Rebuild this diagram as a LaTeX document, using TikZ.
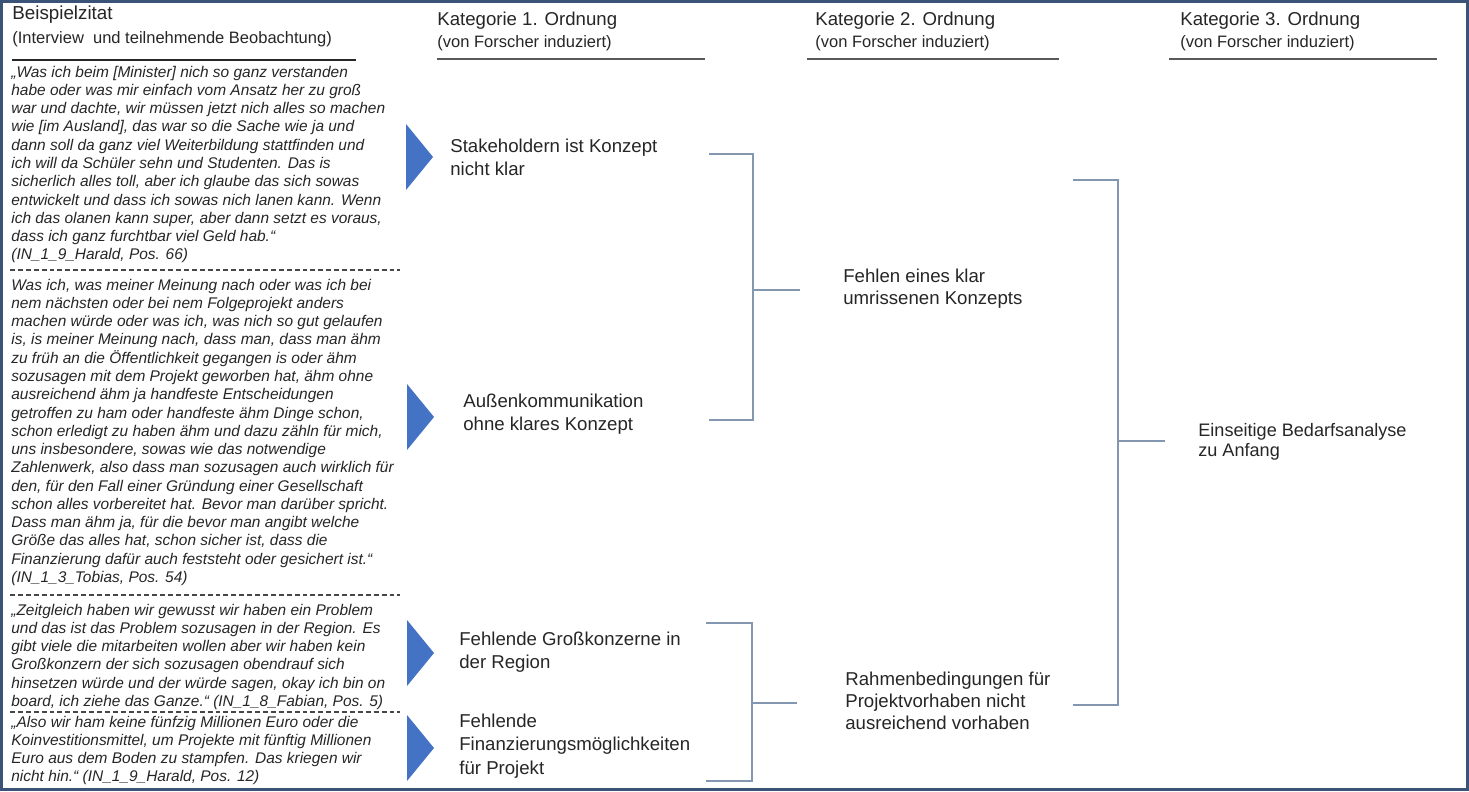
\documentclass[tikz,border=0pt]{standalone}
\usepackage{fontspec}
\setmainfont{Liberation Sans}
\usetikzlibrary{calc}
\definecolor{FrameBlue}{RGB}{59,83,118}
\definecolor{MarkerBlue}{RGB}{68,114,196}
\definecolor{BracketBlue}{RGB}{132,151,176}
\definecolor{RuleGray}{RGB}{89,89,89}
\definecolor{InkGray}{RGB}{38,38,38}
\tikzset{
  title/.style={
    anchor=base west,
    inner sep=0pt,
    font=\fontsize{10.6}{13}\selectfont,
    text=InkGray
  },
  subtitle/.style={
    anchor=base west,
    inner sep=0pt,
    font=\fontsize{9.4}{11}\selectfont,
    text=InkGray
  },
  quote/.style={
    anchor=north west,
    inner sep=0pt,
    align=left,
    font=\fontsize{8.8}{10.4}\selectfont\itshape,
    text=InkGray
  },
  code/.style={
    anchor=west,
    inner sep=0pt,
    align=left,
    font=\fontsize{10.6}{13}\selectfont,
    text=InkGray
  },
  marker/.style={fill=MarkerBlue,draw=none},
  bracket/.style={draw=BracketBlue,line width=0.9pt},
  rule/.style={draw=RuleGray,line width=1.4pt},
  sep/.style={draw=InkGray!85,line width=0.6pt,dash pattern=on 2.8pt off 1.7pt}
}

\begin{document}
\begin{tikzpicture}[x=0.02cm,y=-0.02cm]
\useasboundingbox (0,0) rectangle (1469,791);
\fill[white] (0,0) rectangle (1469,791);

% column heads
\node[title,font=\fontsize{10.7}{13}\selectfont] (h0) at (12,19) {Beispielzitat};
\node[subtitle] (s0) at (12,43) {(Interview\ \ und teilnehmende Beobachtung)};
\node[title] (h1) at (437,25) {Kategorie 1. Ordnung};
\node[subtitle] (s1) at (437,47) {(von Forscher induziert)};
\node[title] (h2) at (815,25) {Kategorie 2. Ordnung};
\node[subtitle] (s2) at (815,47) {(von Forscher induziert)};
\node[title] (h3) at (1180,25) {Kategorie 3. Ordnung};
\node[subtitle] (s3) at (1180,47) {(von Forscher induziert)};

\coordinate (r0) at (12,60);
\coordinate (r1) at (437,59);
\coordinate (r2) at (807,59);
\coordinate (r3) at (1169,59);
\draw[rule,line width=0.85pt,draw=InkGray] (r0) -- ++(344,0);
\draw[rule] (r1) -- ++(268,0);
\draw[rule] (r2) -- ++(252,0);
\draw[rule] (r3) -- ++(268,0);

% quotes
\node[quote] (q1) at (11,64) {\strut„Was ich beim [Minister] nich so ganz verstanden\\
habe oder was mir einfach vom Ansatz her zu groß\\
war und dachte, wir müssen jetzt nich alles so machen\\
wie [im Ausland], das war so die Sache wie ja und\\
dann soll da ganz viel Weiterbildung stattfinden und\\
ich will da Schüler sehn und Studenten. Das is\\
sicherlich alles toll, aber ich glaube das sich sowas\\
entwickelt und dass ich sowas nich lanen kann. Wenn\\
ich das olanen kann super, aber dann setzt es voraus,\\
dass ich ganz furchtbar viel Geld hab.“\\
(IN\_1\_9\_Harald, Pos. 66)};

\node[quote] (q2) at (11,277) {\strut Was ich, was meiner Meinung nach oder was ich bei\\
nem nächsten oder bei nem Folgeprojekt anders\\
machen würde oder was ich, was nich so gut gelaufen\\
is, is meiner Meinung nach, dass man, dass man ähm\\
zu früh an die Öffentlichkeit gegangen is oder ähm\\
sozusagen mit dem Projekt geworben hat, ähm ohne\\
ausreichend ähm ja handfeste Entscheidungen\\
getroffen zu ham oder handfeste ähm Dinge schon,\\
schon erledigt zu haben ähm und dazu zähln für mich,\\
uns insbesondere, sowas wie das notwendige\\
Zahlenwerk, also dass man sozusagen auch wirklich für\\
den, für den Fall einer Gründung einer Gesellschaft\\
schon alles vorbereitet hat. Bevor man darüber spricht.\\
Dass man ähm ja, für die bevor man angibt welche\\
Größe das alles hat, schon sicher ist, dass die\\
Finanzierung dafür auch feststeht oder gesichert ist.“\\
(IN\_1\_3\_Tobias, Pos. 54)};

\node[quote] (q3) at (11,602) {\strut„Zeitgleich haben wir gewusst wir haben ein Problem\\
und das ist das Problem sozusagen in der Region. Es\\
gibt viele die mitarbeiten wollen aber wir haben kein\\
Großkonzern der sich sozusagen obendrauf sich\\
hinsetzen würde und der würde sagen, okay ich bin on\\
board, ich ziehe das Ganze.“ (IN\_1\_8\_Fabian, Pos. 5)};

\node[quote] (q4) at (11,714) {\strut„Also wir ham keine fünfzig Millionen Euro oder die\\
Koinvestitionsmittel, um Projekte mit fünftig Millionen\\
Euro aus dem Boden zu stampfen. Das kriegen wir\\
nicht hin.“ (IN\_1\_9\_Harald, Pos. 12)};

\coordinate (d1) at (10,270);
\coordinate (d2) at (10,595);
\coordinate (d3) at (10,712);
\foreach \d in {d1,d2,d3}
  \draw[sep] (\d) -- ++(390,0);

% markers
\foreach \x/\y in {406/157,407/417,407/653,407/748}
  \fill[marker] (\x,\y-33) -- (\x+27,\y) -- (\x,\y+33) -- cycle;

% first order
\node[code] (k1) at (450,157) {Stakeholdern ist Konzept\\nicht klar};
\node[code] (k2) at (463,414) {Außenkommunikation\\ohne klares Konzept};
\node[code] (k3) at (459,652) {Fehlende Großkonzerne in\\der Region};
\node[code,font=\fontsize{10.6}{13.3}\selectfont] (k4) at (459,746) {Fehlende\\Finanzierungsmöglichkeiten\\für Projekt};

% second order
\node[code,font=\fontsize{10.6}{12.5}\selectfont] (c1) at (843,289) {Fehlen eines klar\\umrissenen Konzepts};
\node[code,font=\fontsize{10.6}{12.5}\selectfont] (c2) at (845,701) {Rahmenbedingungen für\\Projektvorhaben nicht\\ausreichend vorhaben};

% third order
\node[code,font=\fontsize{10.3}{11.5}\selectfont] (e1) at (1198,442) {Einseitige Bedarfsanalyse\\zu Anfang};

% brackets
\coordinate (b1) at (709,154);
\coordinate (b1e) at (709,420);
\coordinate (j1) at (753,290);
\draw[bracket] (b1) -- ++(44,0) |- (b1e);
\draw[bracket] (j1) -- ++(47,0);

\coordinate (b2) at (706,623);
\coordinate (b2e) at (706,781);
\coordinate (j2) at (752,703);
\draw[bracket] (b2) -- ++(46,0) |- (b2e);
\draw[bracket] (j2) -- ++(45,0);

\coordinate (b3) at (1073,180);
\coordinate (b3e) at (1073,705);
\coordinate (j3) at (1118,441);
\draw[bracket] (b3) -- ++(45,0) |- (b3e);
\draw[bracket] (j3) -- ++(47,0);

% frame
\draw[FrameBlue,line width=1.8pt] (1.6,1.6) rectangle (1467.4,789.4);
\end{tikzpicture}
\end{document}
